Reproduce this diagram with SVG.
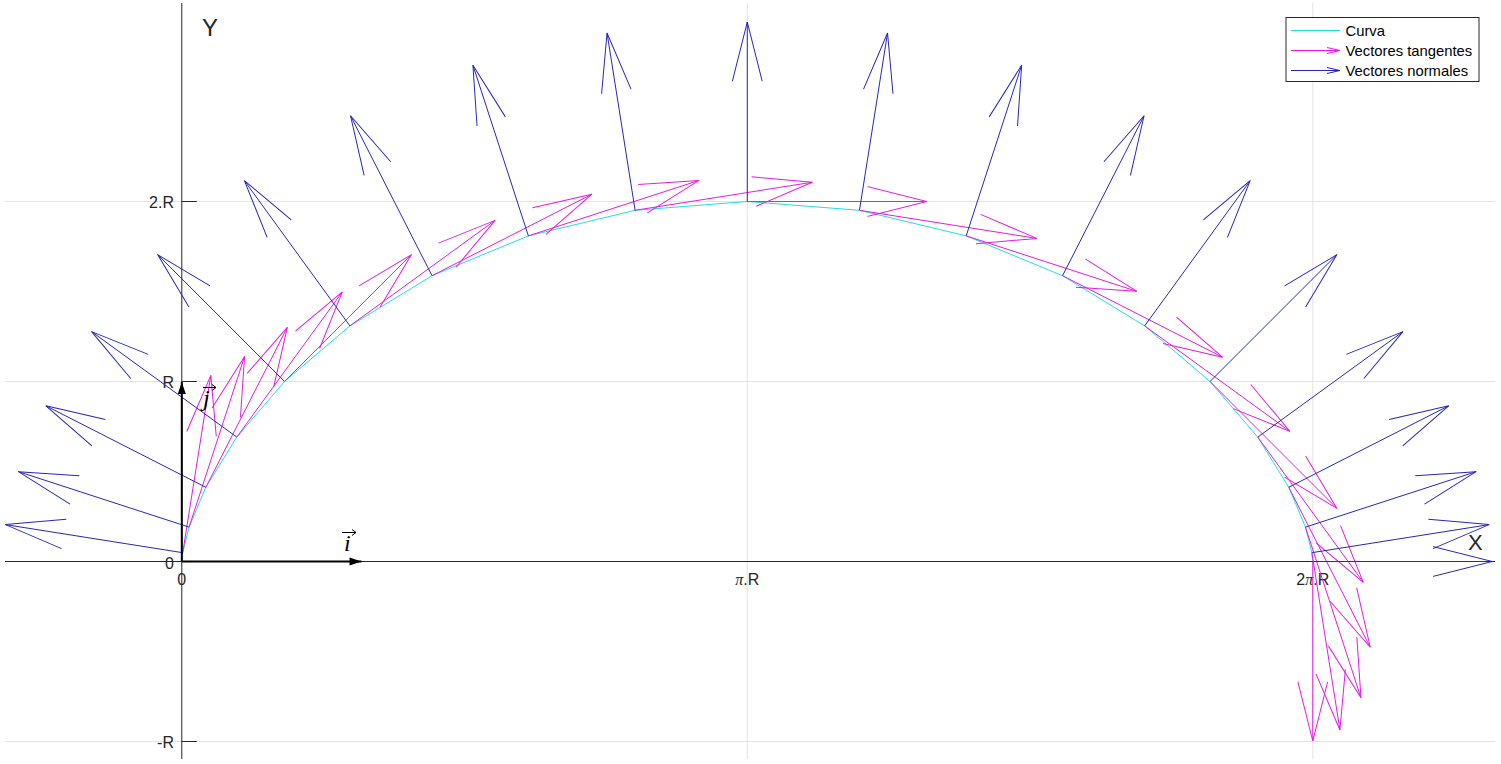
<svg xmlns="http://www.w3.org/2000/svg" width="1501" height="764" viewBox="0 0 1501 764">
<style>
.grid{stroke:#e3e3e3;stroke-width:1;fill:none}
.axis{stroke:#262626;stroke-width:1;fill:none}
.tl{font-family:"Liberation Sans",Arial,sans-serif;font-size:16px;fill:#262626}
.lab{font-family:"Liberation Sans",Arial,sans-serif;fill:#262626}
.curve{stroke:#22dde6;stroke-width:1;fill:none}
.tan line{stroke:#e619e6;stroke-width:1;marker-end:url(#hm)}
.nor line{stroke:#2727b8;stroke-width:1;marker-end:url(#hb)}
.vec{stroke:#000;stroke-width:2;marker-end:url(#hk)}
.mth{font-family:"Liberation Serif","Times New Roman",serif;font-style:italic;fill:#000}
.leg{font-family:"Liberation Sans",Arial,sans-serif;font-size:14.8px;fill:#000}
</style>
<defs>
<marker id="hb" markerUnits="userSpaceOnUse" orient="auto" viewBox="-62 -17 64 34" markerWidth="64" markerHeight="34" refX="0" refY="0" overflow="visible"><path d="M-59.2,-14.9 L0,0 L-59.2,14.9" fill="none" stroke="#2727b8" stroke-width="1"/></marker>
<marker id="hm" markerUnits="userSpaceOnUse" orient="auto" viewBox="-62 -17 64 34" markerWidth="64" markerHeight="34" refX="0" refY="0" overflow="visible"><path d="M-59.2,-14.9 L0,0 L-59.2,14.9" fill="none" stroke="#e619e6" stroke-width="1"/></marker>
<marker id="hk" markerUnits="userSpaceOnUse" orient="auto" viewBox="-14 -6 16 12" markerWidth="16" markerHeight="12" refX="0" refY="0" overflow="visible"><path d="M-12,-4 L0,0 L-12,4 Z" fill="#000"/></marker>
<marker id="lhb" markerUnits="userSpaceOnUse" orient="auto" viewBox="-15 -5 17 10" markerWidth="17" markerHeight="10" refX="0" refY="0" overflow="visible"><path d="M-13,-3 L0,0 L-13,3" fill="none" stroke="#2727b8" stroke-width="1"/></marker>
<marker id="lhm" markerUnits="userSpaceOnUse" orient="auto" viewBox="-15 -5 17 10" markerWidth="17" markerHeight="10" refX="0" refY="0" overflow="visible"><path d="M-13,-3 L0,0 L-13,3" fill="none" stroke="#e619e6" stroke-width="1"/></marker>
</defs>
<rect x="0" y="0" width="1501" height="764" fill="#fff"/>
<g id="grid">
<line class="grid" x1="5" y1="201.5" x2="1495" y2="201.5"/>
<line class="grid" x1="5" y1="381.5" x2="1495" y2="381.5"/>
<line class="grid" x1="5" y1="741.5" x2="1495" y2="741.5"/>
<line class="grid" x1="747.3" y1="3" x2="747.3" y2="759"/>
<line class="grid" x1="1312.8" y1="3" x2="1312.8" y2="759"/>
</g>
<g id="axes">
<line class="axis" x1="5" y1="561.5" x2="1495" y2="561.5"/>
<line class="axis" x1="181.8" y1="3" x2="181.8" y2="759"/>
<path class="axis" d="M181.8,201.5 H196.8 M181.8,381.5 H196.8 M181.8,741.5 H196.8"/>
<text class="tl" x="174" y="208" text-anchor="end">2.R</text>
<text class="tl" x="174" y="388" text-anchor="end">R</text>
<text class="tl" x="174" y="568.5" text-anchor="end">0</text>
<text class="tl" x="174" y="748" text-anchor="end">-R</text>
<text class="tl" x="181.8" y="585" text-anchor="middle">0</text>
<text class="tl" x="747.3" y="585" text-anchor="middle"><tspan font-family="Liberation Serif,serif" font-style="italic">π</tspan>.R</text>
<text class="tl" x="1312.8" y="585" text-anchor="middle">2<tspan font-family="Liberation Serif,serif" font-style="italic">π</tspan>.R</text>
<text class="lab" x="1468" y="549.5" font-size="22">X</text>
<text class="lab" x="202" y="35.5" font-size="24">Y</text>
</g>
<g id="curve">
<polyline class="curve" points="181.8,561.5 182.73,552.69 189.10,527.12 205.82,487.30 236.80,437.12 284.54,381.5 349.90,325.88 432.02,275.70 528.39,235.88 635.12,210.31 747.29,201.5 859.46,210.31 966.19,235.88 1062.56,275.70 1144.67,325.88 1210.03,381.5 1257.77,437.12 1288.75,487.30 1305.48,527.12 1311.85,552.69 1312.77,561.5"/>
</g>
<g id="connectors">
<g id="tangentes" class="tan">
<line x1="182.73" y1="552.69" x2="210.81" y2="375.40"/>
<line x1="189.10" y1="527.12" x2="244.57" y2="356.41"/>
<line x1="205.82" y1="487.30" x2="287.31" y2="327.36"/>
<line x1="236.80" y1="437.12" x2="342.31" y2="291.90"/>
<line x1="284.54" y1="381.5" x2="411.47" y2="254.57"/>
<line x1="349.90" y1="325.88" x2="495.12" y2="220.37"/>
<line x1="432.02" y1="275.70" x2="591.96" y2="194.21"/>
<line x1="528.39" y1="235.88" x2="699.10" y2="180.41"/>
<line x1="635.12" y1="210.31" x2="812.41" y2="182.23"/>
<line x1="747.29" y1="201.5" x2="926.79" y2="201.5"/>
<line x1="859.46" y1="210.31" x2="1036.75" y2="238.39"/>
<line x1="966.19" y1="235.88" x2="1136.90" y2="291.35"/>
<line x1="1062.56" y1="275.70" x2="1222.50" y2="357.19"/>
<line x1="1144.67" y1="325.88" x2="1289.89" y2="431.39"/>
<line x1="1210.03" y1="381.5" x2="1336.96" y2="508.43"/>
<line x1="1257.77" y1="437.12" x2="1363.28" y2="582.34"/>
<line x1="1288.75" y1="487.30" x2="1370.24" y2="647.24"/>
<line x1="1305.48" y1="527.12" x2="1360.95" y2="697.83"/>
<line x1="1311.85" y1="552.69" x2="1339.93" y2="729.98"/>
<line x1="1312.77" y1="561.5" x2="1312.77" y2="741.0"/>
</g>
<g id="normales" class="nor">
<line x1="182.73" y1="552.69" x2="5.44" y2="524.61"/>
<line x1="189.10" y1="527.12" x2="18.39" y2="471.65"/>
<line x1="205.82" y1="487.30" x2="45.88" y2="405.81"/>
<line x1="236.80" y1="437.12" x2="91.58" y2="331.61"/>
<line x1="284.54" y1="381.5" x2="157.61" y2="254.57"/>
<line x1="349.90" y1="325.88" x2="244.39" y2="180.66"/>
<line x1="432.02" y1="275.70" x2="350.53" y2="115.76"/>
<line x1="528.39" y1="235.88" x2="472.92" y2="65.17"/>
<line x1="635.12" y1="210.31" x2="607.04" y2="33.02"/>
<line x1="747.29" y1="201.5" x2="747.29" y2="22.0"/>
<line x1="859.46" y1="210.31" x2="887.54" y2="33.02"/>
<line x1="966.19" y1="235.88" x2="1021.66" y2="65.17"/>
<line x1="1062.56" y1="275.70" x2="1144.05" y2="115.76"/>
<line x1="1144.67" y1="325.88" x2="1250.18" y2="180.66"/>
<line x1="1210.03" y1="381.5" x2="1336.96" y2="254.57"/>
<line x1="1257.77" y1="437.12" x2="1402.99" y2="331.61"/>
<line x1="1288.75" y1="487.30" x2="1448.69" y2="405.81"/>
<line x1="1305.48" y1="527.12" x2="1476.19" y2="471.65"/>
<line x1="1311.85" y1="552.69" x2="1489.14" y2="524.61"/>
<line x1="1312.77" y1="561.5" x2="1492.27" y2="561.5"/>
</g>
<g id="base-vectors">
<line class="vec" x1="181.8" y1="561.5" x2="361.5" y2="561.5"/>
<line class="vec" x1="181.8" y1="561.5" x2="181.8" y2="382"/>
</g>
</g>
<g id="vec-i">
<text class="mth" x="344" y="551" font-size="24">i</text>
<path d="M342,532.5 H356 M352,529.5 L356,532.5 L352,535.5" fill="none" stroke="#000" stroke-width="1"/>
</g>
<g id="vec-j">
<text class="mth" x="203" y="406" font-size="24">j</text>
<path d="M203,387.5 H216 M212,384.5 L216,387.5 L212,390.5" fill="none" stroke="#000" stroke-width="1"/>
</g>
<g id="legend">
<rect x="1286" y="17.5" width="193" height="64" fill="#fff" stroke="#262626" stroke-width="1"/>
<line x1="1291" y1="30.5" x2="1340" y2="30.5" stroke="#22dde6" stroke-width="1"/>
<line x1="1291" y1="50.5" x2="1340" y2="50.5" stroke="#e619e6" stroke-width="1" marker-end="url(#lhm)"/>
<line x1="1291" y1="70.5" x2="1340" y2="70.5" stroke="#2727b8" stroke-width="1" marker-end="url(#lhb)"/>
<text class="leg" x="1345.5" y="35.5">Curva</text>
<text class="leg" x="1345.5" y="56">Vectores tangentes</text>
<text class="leg" x="1345.5" y="76">Vectores normales</text>
</g>
</svg>
